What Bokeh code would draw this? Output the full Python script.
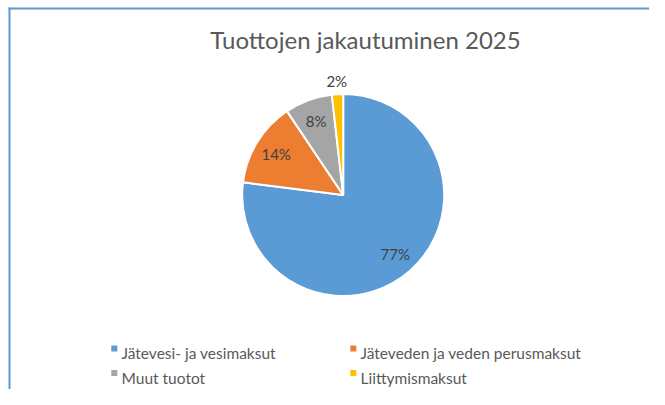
import math
from bokeh.plotting import figure
from bokeh.models import ColumnDataSource
from bokeh.core.properties import value
from bokeh.embed import file_html
from bokeh.resources import INLINE

# ---- data ----
title_text = "Tuottojen jakautuminen 2025"
categories = ["Jätevesi- ja vesimaksut", "Jäteveden ja veden perusmaksut",
              "Muut tuotot", "Liittymismaksut"]
shares = [77.0, 13.6, 7.6, 1.8]
colors = ["#5B9BD5", "#ED7D31", "#A5A5A5", "#FFC000"]

FONT = "Lato"
W, H = 649, 389

p = figure(width=W, height=H, x_range=(0, W), y_range=(0, H),
           output_backend="svg", toolbar_location=None, min_border=0,
           tools="")
p.axis.visible = False
p.grid.visible = False
p.outline_line_color = None
p.background_fill_color = "white"
p.border_fill_color = "white"

# chart-area frame (top and left edges visible)
p.segment(x0=[8, 9], y0=[381, 0], x1=[W, 9], y1=[381, 382],
          line_color="#5B9BD5", line_width=2)

# title
p.text(x=[365], y=[350.5], text=[title_text], text_font=value(FONT),
       text_font_size="24px", text_color="#595959", text_align="center",
       text_baseline="alphabetic")

# pie
cx, cy, R = 342.7, 194.5, 101.0
total = sum(shares)
fr = [s / total for s in shares]
cum = [0.0]
for f in fr:
    cum.append(cum[-1] + f)
start = [math.pi / 2 - 2 * math.pi * cum[i + 1] for i in range(len(fr))]
end = [math.pi / 2 - 2 * math.pi * cum[i] for i in range(len(fr))]
src = ColumnDataSource(dict(cat=categories, start=start, end=end, color=colors))
p.wedge(x=cx, y=cy, radius=R, start_angle="start", end_angle="end",
        fill_color="color", line_color="white", line_width=2, source=src)

# data labels
lx, ly, lt = [], [], []
for i, f in enumerate(fr):
    mid = math.pi / 2 - 2 * math.pi * (cum[i] + f / 2)
    rr = 0.78 * R if f > 0.05 else 1.13 * R
    lx.append(cx + rr * math.cos(mid))
    ly.append(cy + rr * math.sin(mid))
    lt.append(f"{round(shares[i])}%")
p.text(x=lx, y=ly, text=lt, text_font=value(FONT), text_font_size="15px",
       text_color="#404040", text_align="center", text_baseline="middle")

# legend (2 x 2)
col_x = [113.8, 352.8]
row_sq_y = [41.0, 16.5]
row_txt_y = [36.5, 12.0]
sq_x, sq_y, tx, ty = [], [], [], []
for i, c in enumerate(categories):
    r, k = divmod(i, 2)
    sq_x.append(col_x[k]); sq_y.append(row_sq_y[r])
    tx.append(col_x[k] + 7.2); ty.append(row_txt_y[r])
p.rect(x=sq_x, y=sq_y, width=6, height=6, fill_color=colors, line_color=None)
p.text(x=tx, y=ty, text=categories, text_font=value(FONT), text_font_size="15.5px",
       text_color="#595959", text_align="left", text_baseline="alphabetic")

open("out.html", "w").write(file_html(p, INLINE))
